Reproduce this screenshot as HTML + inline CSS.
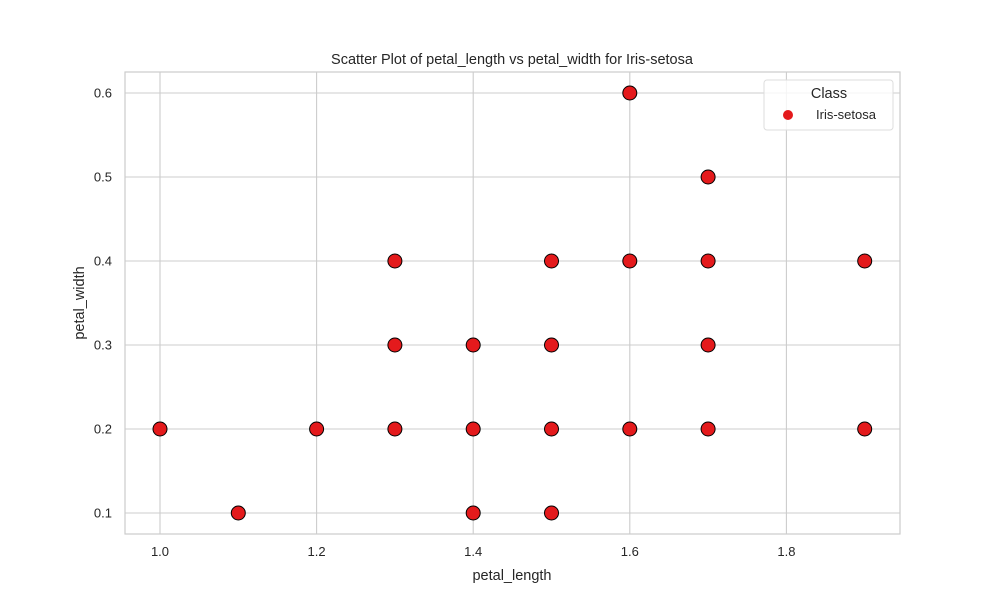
<!DOCTYPE html>
<html><head><meta charset="utf-8"><style>
body{margin:0;background:#fff;font-family:"Liberation Sans",sans-serif}
</style></head><body>
<svg width="1000" height="600" xmlns="http://www.w3.org/2000/svg" font-family="Liberation Sans, sans-serif">
<rect x="125" y="72" width="775" height="462" fill="#fff" stroke="#cccccc" stroke-width="1.2"/>
<g id="grid"></g>
<g id="ticks"></g>
<g id="pts"></g>
<text x="512" y="64" text-anchor="middle" font-size="14.5" fill="#262626">Scatter Plot of petal_length vs petal_width for Iris-setosa</text>
<text x="512" y="580" text-anchor="middle" font-size="14.5" fill="#262626">petal_length</text>
<text transform="translate(84,303) rotate(-90)" text-anchor="middle" font-size="14.5" fill="#262626">petal_width</text>
<g>
<rect x="764" y="80" width="129" height="50" rx="3" fill="#fff" fill-opacity="0.8" stroke="#dddddd"/>
<text x="829" y="98" text-anchor="middle" font-size="14.5" fill="#262626">Class</text>
<circle cx="788" cy="115" r="5" fill="#e41a1c"/>
<text x="816" y="119" font-size="13" fill="#262626">Iris-setosa</text>
</g>
</svg>
<script>
const xs=[1.0,1.1,1.2,1.3,1.3,1.3,1.4,1.4,1.4,1.5,1.5,1.5,1.5,1.6,1.6,1.6,1.7,1.7,1.7,1.7,1.9,1.9];
const ys=[0.2,0.1,0.2,0.4,0.3,0.2,0.3,0.2,0.1,0.4,0.3,0.2,0.1,0.6,0.4,0.2,0.5,0.4,0.3,0.2,0.4,0.2];
const xTicks=[1.0,1.2,1.4,1.6,1.8];
const yTicks=[0.1,0.2,0.3,0.4,0.5,0.6];
const X=v=>160+(v-1.0)*783, Y=v=>513-(v-0.1)*840;
const NS="http://www.w3.org/2000/svg";
const g=document.getElementById('grid'),t=document.getElementById('ticks'),p=document.getElementById('pts');
function mk(tag,a,par){const e=document.createElementNS(NS,tag);for(const k in a)e.setAttribute(k,a[k]);par.appendChild(e);return e;}
xTicks.forEach(v=>{
const l=mk('line',{x1:X(v),x2:X(v),y1:72,y2:534,stroke:'#cccccc','stroke-width':1.1},g);


const tx=mk('text',{x:X(v),y:556,'text-anchor':'middle','font-size':13,fill:'#262626'},t);
tx.textContent=v.toFixed(1);


});
yTicks.forEach(v=>{
const l=mk('line',{x1:125,x2:900,y1:Y(v),y2:Y(v),stroke:'#cccccc','stroke-width':1.1},g);


const tx=mk('text',{x:112,y:Y(v)+4.5,'text-anchor':'end','font-size':13,fill:'#262626'},t);
tx.textContent=v.toFixed(1);


});
xs.forEach((v,i)=>{
const c=mk('circle',{cx:X(v),cy:Y(ys[i]),r:7,fill:'#e41a1c',stroke:'#000','stroke-width':1},p);


});
</script>
</body></html>
